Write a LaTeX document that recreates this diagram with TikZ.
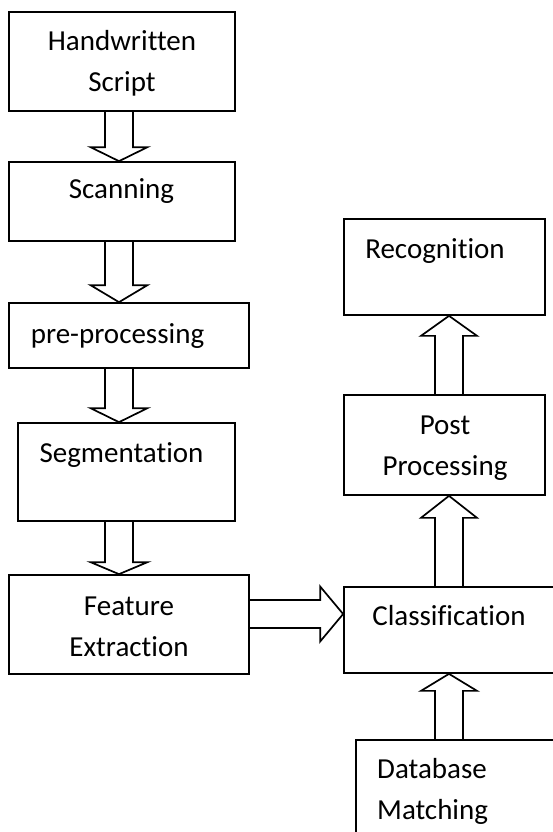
\documentclass[tikz,border=0pt]{standalone}
\usepackage{fontspec}
\setmainfont{Carlito}[Ligatures={NoCommon}]
\usetikzlibrary{calc}
\tikzset{
  box/.style={draw, line width=1.7pt, rectangle, inner sep=0pt},
  lbl/.style={font=\fontsize{29}{41}\selectfont, inner sep=0pt, align=center, anchor=base},
  blk/.style={draw, line width=1.7pt, line join=miter},
}
\newcommand{\blkdown}[4]{%
  \draw[blk] ($(#1.south -| #3)+(-14,0)$) -- ($(#2.north -| #3)+(-14,-#4)$)
    -- ($(#2.north -| #3)+(-28.5,-#4)$) -- (#2.north -| #3)
    -- ($(#2.north -| #3)+(28.5,-#4)$) -- ($(#2.north -| #3)+(14,-#4)$)
    -- ($(#1.south -| #3)+(14,0)$);}
\newcommand{\blkup}[4]{%
  \draw[blk] ($(#1.north -| #3)+(-14,0)$) -- ($(#2.south -| #3)+(-14,#4)$)
    -- ($(#2.south -| #3)+(-28,#4)$) -- (#2.south -| #3)
    -- ($(#2.south -| #3)+(28,#4)$) -- ($(#2.south -| #3)+(14,#4)$)
    -- ($(#1.north -| #3)+(14,0)$);}
\newcommand{\blkright}[4]{%
  \draw[blk] ($(#1.east |- #3)+(0,-14)$) -- ($(#2.west |- #3)+(-#4,-14)$)
    -- ($(#2.west |- #3)+(-#4,-27.5)$) -- (#2.west |- #3)
    -- ($(#2.west |- #3)+(-#4,27.5)$) -- ($(#2.west |- #3)+(-#4,14)$)
    -- ($(#1.east |- #3)+(0,14)$);}
\begin{document}
\begin{tikzpicture}[x=1pt, y=-1pt]
  \clip (0,0) rectangle (553,832);
  \fill[white] (0,0) rectangle (553,832);
  \coordinate (colL) at (119,0);
  \coordinate (colR) at (449,0);
  \coordinate (rowF) at (0,614);
  % boxes
  \node[box, minimum width=226pt, minimum height=99pt] (hw) at (122,61.5) {};
  \node[box, minimum width=226pt, minimum height=79pt] (sc) at (122,201.5) {};
  \node[box, minimum width=240pt, minimum height=65pt] (pre) at (129,335.5) {};
  \node[box, minimum width=217pt, minimum height=98pt] (seg) at (126.5,472) {};
  \node[box, minimum width=240pt, minimum height=99pt] (fe) at (129,624.5) {};
  \node[box, minimum width=226pt, minimum height=86pt] (cl) at (457,630) {};
  \node[box, minimum width=201pt, minimum height=100pt] (post) at (444.5,445) {};
  \node[box, minimum width=201pt, minimum height=96pt] (rec) at (444.5,267) {};
  \node[box, minimum width=214pt, minimum height=110pt] (db) at (463,795) {};
  % labels (base = baseline of the last line)
  \node[lbl] (hwt) at (122,92) {Handwritten\\Script};
  \node[lbl] (sct) at (121.5,198) {Scanning};
  \node[lbl] (pret) at (117.5,343) {pre-processing};
  \node[lbl] (segt) at (121.5,462) {Segmentation};
  \node[lbl] (fet) at (129,656) {Feature\\Extraction};
  \node[lbl] (clt) at (449,625) {Classification};
  \node[lbl] (postt) at (445,475) {Post\\Processing};
  \node[lbl] (rect) at (435,258) {Recognition};
  \node[lbl, align=left, anchor=base west] (dbt) at (377,819) {Database\\Matching};
  % block arrows
  \blkdown{hw}{sc}{colL}{14}
  \blkdown{sc}{pre}{colL}{17}
  \blkdown{pre}{seg}{colL}{14}
  \blkdown{seg}{fe}{colL}{12}
  \blkright{fe}{cl}{rowF}{23}
  \blkup{cl}{post}{colR}{22}
  \blkup{post}{rec}{colR}{20}
  \blkup{db}{cl}{colR}{17}
\end{tikzpicture}
\end{document}
